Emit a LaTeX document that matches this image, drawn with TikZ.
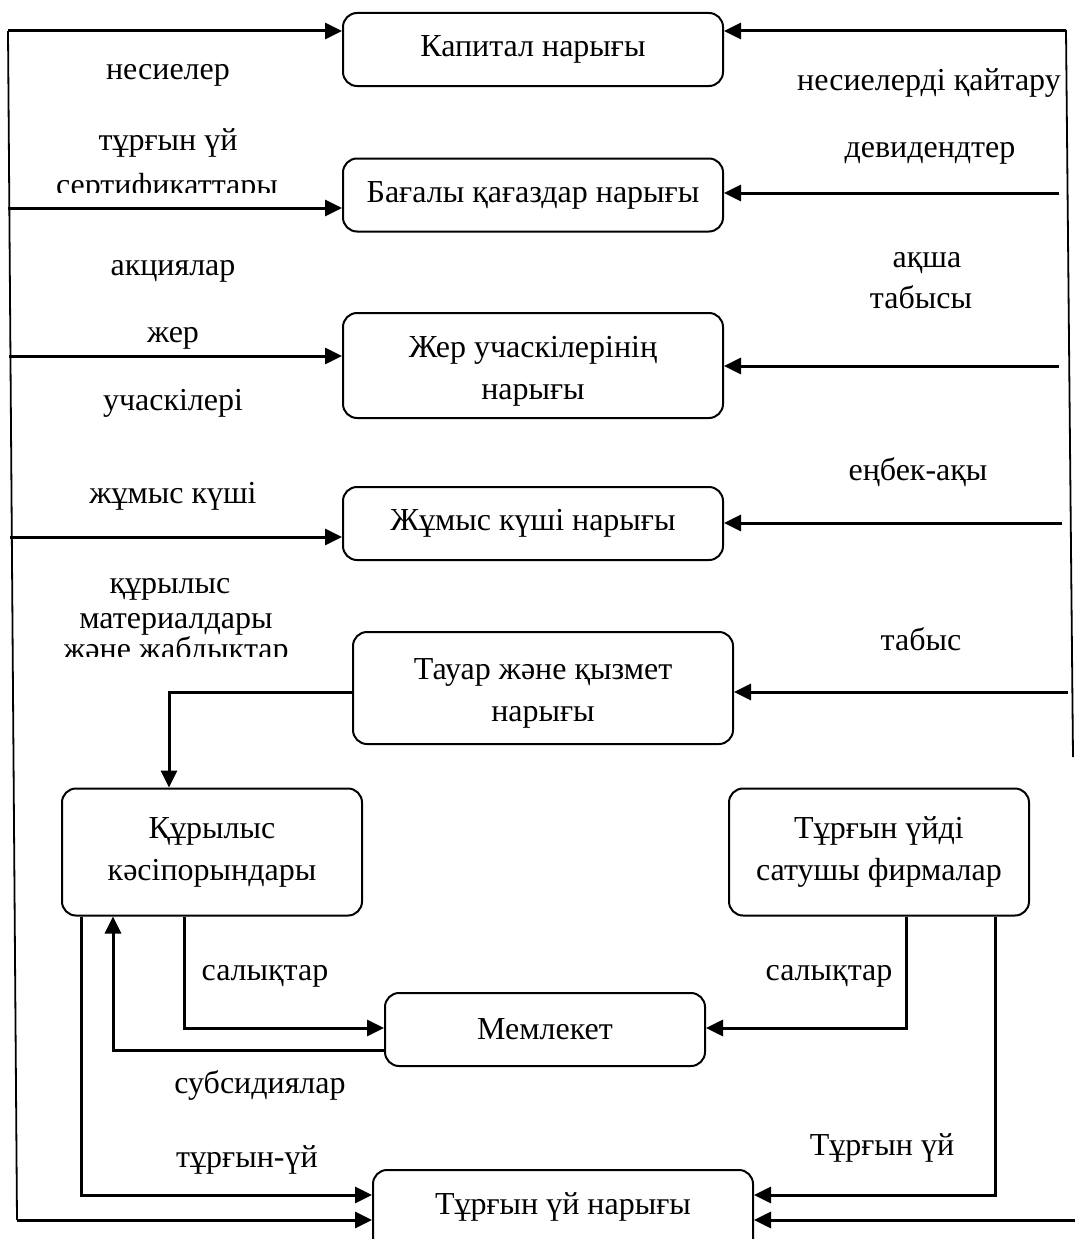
\documentclass[tikz,border=0pt]{standalone}
\usepackage{fontspec}
\setmainfont{Liberation Serif}
\usetikzlibrary{arrows.meta}
\begin{document}
\begin{tikzpicture}[x=1pt,y=-1pt,
  box/.style={draw, line width=2pt, rounded corners=14pt, align=center,
    font=\fontsize{32}{42}\selectfont, inner sep=0pt},
  lbl/.style={font=\fontsize{32}{34}\selectfont, inner sep=0pt, anchor=base},
  flow/.style={line width=3pt, -{Triangle[length=17pt,width=16pt]}},
  rail/.style={line width=1.8pt}]
\useasboundingbox (0,0) rectangle (1075,1239);

% boxes
\node[box, minimum width=380pt, minimum height=73pt] (cap) at (533,49.5) {Капитал нарығы};
\node[box, minimum width=380pt, minimum height=73pt] (sec) at (533,195) {Бағалы қағаздар нарығы};
\node[box, minimum width=380pt, minimum height=105pt] (land) at (533,365.5) {\rule{0pt}{33pt}Жер учаскілерінің\\нарығы};
\node[box, minimum width=380pt, minimum height=73pt] (lab) at (533,523.5) {Жұмыс күші нарығы};
\node[box, minimum width=380pt, minimum height=112pt] (goods) at (543,688) {\rule{0pt}{32pt}Тауар және қызмет\\нарығы};
\node[box, minimum width=300pt, minimum height=127pt] (cons) at (212,852) {Құрылыс\\кәсіпорындары};
\node[box, minimum width=300pt, minimum height=127pt] (sell) at (879,852) {Тұрғын үйді\\сатушы фирмалар};
\node[box, minimum width=320pt, minimum height=73pt] (state) at (545,1029.5) {Мемлекет};
\node[box, minimum width=380pt, minimum height=90pt] (house) at (563,1215) {Тұрғын үй нарығы\rule[-23pt]{0pt}{23pt}};

% left rail
\coordinate (L0) at (8,31);
\coordinate (L1) at (17,1220);
\draw[rail] (L0) -- (L1);
\coordinate (a2) at (8,208);
\coordinate (a3) at (9,356);
\coordinate (a4) at (10,537);
\draw[flow] (L0) -- (L0 -| cap.west);
\draw[flow] (a2) -- (a2 -| sec.west);
\draw[flow] (a3) -- (a3 -| land.west);
\draw[flow] (a4) -- (a4 -| lab.west);
\draw[flow] (L1) -- (L1 -| house.west);

% right rail
\coordinate (R0) at (1066,30);
\coordinate (R1) at (1073,757);
\draw[rail] (R0) -- (R1);
\coordinate (b1) at (1066,31);
\coordinate (b2) at (1059,193);
\coordinate (b3) at (1059,366);
\coordinate (b4) at (1062,523);
\coordinate (b5) at (1068,692);
\coordinate (b9) at (1085,1220);
\draw[flow] (b1) -- (b1 -| cap.east);
\draw[flow] (b2) -- (b2 -| sec.east);
\draw[flow] (b3) -- (b3 -| land.east);
\draw[flow] (b4) -- (b4 -| lab.east);
\draw[flow] (b5) -- (b5 -| goods.east);
\draw[flow] (b9) -- (b9 -| house.east);

% goods -> construction
\draw[flow] ([yshift=-4pt]goods.west) -| ([xshift=-43pt]cons.north);

% construction links
\draw[flow] ([xshift=-131pt]cons.south) |- ([yshift=20pt]house.west);
\draw[flow] ([yshift=-20.5pt]state.west) -| ([xshift=-99pt]cons.south);
\draw[flow] ([xshift=-28pt]cons.south) |- ([yshift=1.5pt]state.west);
% sellers links
\draw[flow] ([xshift=27pt]sell.south) |- ([yshift=1.5pt]state.east);
\draw[flow] ([xshift=116pt]sell.south) |- ([yshift=20pt]house.east);

% left labels
\node[lbl] (l1) at (168,80) {несиелер};
\node[lbl] (l2) at (168,150) {тұрғын үй};
\begin{scope}
\clip (0,150) rectangle (340,192.5);
\node[lbl] (l3) at (167,195) {сертификаттары};
\end{scope}
\node[lbl] (l4) at (173,275) {акциялар};
\node[lbl] (l5) at (173,342) {жер};
\node[lbl] (l6) at (173,410) {учаскілері};
\node[lbl] (l7) at (173,503) {жұмыс күші};
\node[lbl] (l8) at (170,593) {құрылыс};
\node[lbl] (l9) at (176,628) {материалдары};
\begin{scope}
\clip (0,630) rectangle (340,656.5);
\node[lbl] (l10) at (176,659) {және жабдықтар};
\end{scope}

% right labels
\node[lbl] (r1) at (929,90) {несиелерді қайтару};
\node[lbl] (r2) at (930,157) {девидендтер};
\node[lbl] (r3) at (927,267) {ақша};
\node[lbl] (r4) at (921,308) {табысы};
\node[lbl] (r5) at (918,480) {еңбек-ақы};
\node[lbl] (r6) at (921,650) {табыс};

% bottom labels
\node[lbl] (t1) at (265,980) {салықтар};
\node[lbl] (t2) at (829,980) {салықтар};
\node[lbl] (t3) at (260,1093) {субсидиялар};
\node[lbl] (t4) at (247,1167) {тұрғын-үй};
\node[lbl] (t5) at (882,1155) {Тұрғын үй};
\end{tikzpicture}
\end{document}
